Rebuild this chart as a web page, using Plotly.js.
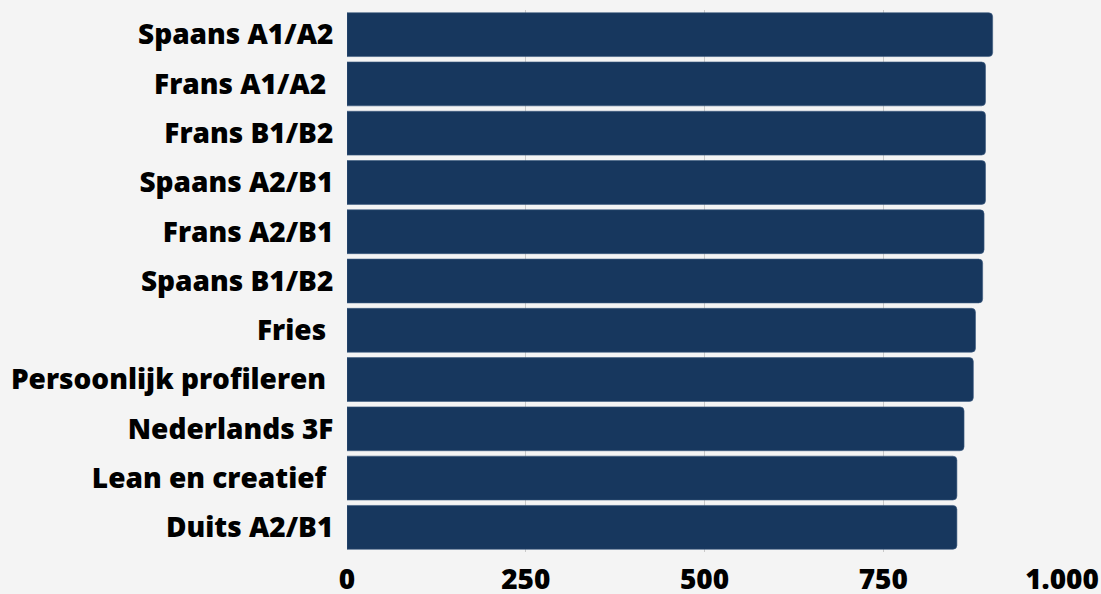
<!DOCTYPE html>
<html>
<head>
<meta charset="utf-8">
<script src="https://cdn.plot.ly/plotly-3.0.1.min.js"></script>
<style>
html,body{margin:0;padding:0;background:#f4f4f4;}
#chart{width:1101px;height:594px;}
</style>
</head>
<body>
<div id="chart"></div>
<script>
const categories = [
  "Spaans A1/A2",
  "Frans A1/A2 ",
  "Frans B1/B2",
  "Spaans A2/B1",
  "Frans A2/B1",
  "Spaans B1/B2",
  "Fries ",
  "Persoonlijk profileren ",
  "Nederlands 3F",
  "Lean en creatief ",
  "Duits A2/B1"
];
const values = [903, 893, 893, 893, 891, 889, 879, 876, 863, 853, 853];
const tickValues = [0, 250, 500, 750, 1000];

const trace = {
  type: 'bar',
  orientation: 'h',
  y: categories,
  x: values,
  marker: {color: '#17375e', line: {color: '#3d5a80', width: 0.6}},
  hoverinfo: 'x+y'
};

const layout = {
  width: 1101,
  height: 594,
  paper_bgcolor: '#f4f4f4',
  plot_bgcolor: '#f4f4f4',
  margin: {l: 347, r: 39, t: 10, b: 42},
  separators: ',.',
  bargap: 0.11,
  barcornerradius: 4,
  showlegend: false,
  font: {family: 'Open Sans, sans-serif', size: 28, color: '#000', weight: 800},
  xaxis: {
    range: [0, 1000],
    tickvals: tickValues,
    separatethousands: true,
    showgrid: true,
    gridcolor: '#c9c9c9',
    gridwidth: 1,
    zeroline: false,
    showline: false,
    ticks: 'outside',
    ticklen: 2,
    tickcolor: 'rgba(0,0,0,0)',
    tickfont: {family: 'Open Sans, sans-serif', size: 28, color: '#000', weight: 800},
    fixedrange: true
  },
  yaxis: {
    autorange: 'reversed',
    showgrid: false,
    zeroline: false,
    showline: false,
    ticks: 'outside',
    ticklen: 7,
    tickcolor: 'rgba(0,0,0,0)',
    tickfont: {family: 'Open Sans, sans-serif', size: 28, color: '#000', weight: 800},
    fixedrange: true
  }
};

Plotly.newPlot('chart', [trace], layout, {displayModeBar: false, staticPlot: true});
</script>
</body>
</html>
